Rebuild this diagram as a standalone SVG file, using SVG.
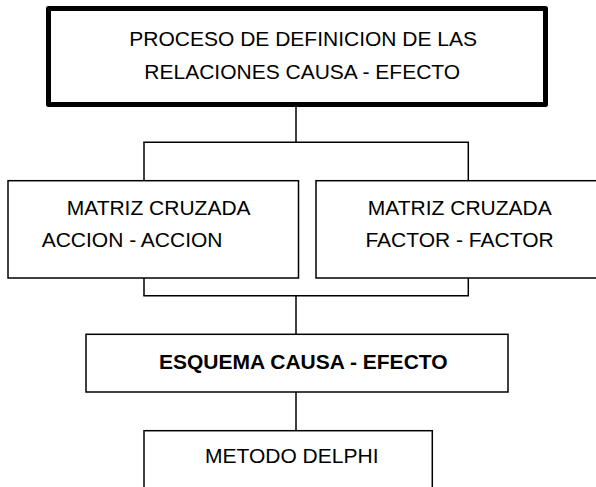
<svg xmlns="http://www.w3.org/2000/svg" width="596" height="487" viewBox="0 0 596 487">
<style>
.box{fill:#fff;stroke:#000;stroke-width:1.5}
.thick{fill:#fff;stroke:#000;stroke-width:5;stroke-linejoin:round}
.t{font-family:"Liberation Sans",Arial,sans-serif;font-size:21px;fill:#000}
.b{font-weight:bold}
#connectors line{stroke:#000;stroke-width:1.5}
</style>
<rect width="596" height="487" fill="#fff"/>
<g id="connectors">
<line x1="296" y1="104" x2="296" y2="142.3"/>
<line x1="143.3" y1="142.3" x2="469" y2="142.3"/>
<line x1="144" y1="142.3" x2="144" y2="180.7"/>
<line x1="468.3" y1="142.3" x2="468.3" y2="180.7"/>
<line x1="144" y1="278" x2="144" y2="295.7"/>
<line x1="468.3" y1="278" x2="468.3" y2="295.7"/>
<line x1="143.3" y1="295.7" x2="469" y2="295.7"/>
<line x1="296" y1="295.7" x2="296" y2="334.3"/>
<line x1="296" y1="392" x2="296" y2="430.7"/>
</g>
<g id="proceso">
<rect class="thick" x="48.5" y="8.5" width="497" height="96"/>
<text class="t" x="129.3" y="46">PROCESO DE DEFINICION DE LAS</text>
<text class="t" x="144.3" y="79">RELACIONES CAUSA - EFECTO</text>
</g>
<g id="matriz-accion">
<rect class="box" x="8" y="180.7" width="290.5" height="97.3"/>
<text class="t" x="66.7" y="215">MATRIZ CRUZADA</text>
<text class="t" x="41.7" y="246.5">ACCION - ACCION</text>
</g>
<g id="matriz-factor">
<rect class="box" x="316" y="180.7" width="290" height="97.3"/>
<text class="t" x="367.8" y="215">MATRIZ CRUZADA</text>
<text class="t" x="365.4" y="246.5">FACTOR - FACTOR</text>
</g>
<g id="esquema">
<rect class="box" x="86" y="334.3" width="422" height="57.7"/>
<text class="t b" x="159" y="369">ESQUEMA CAUSA - EFECTO</text>
</g>
<g id="delphi">
<rect class="box" x="144" y="430.7" width="288.3" height="70"/>
<text class="t" x="205" y="463.3">METODO DELPHI</text>
</g>
</svg>
